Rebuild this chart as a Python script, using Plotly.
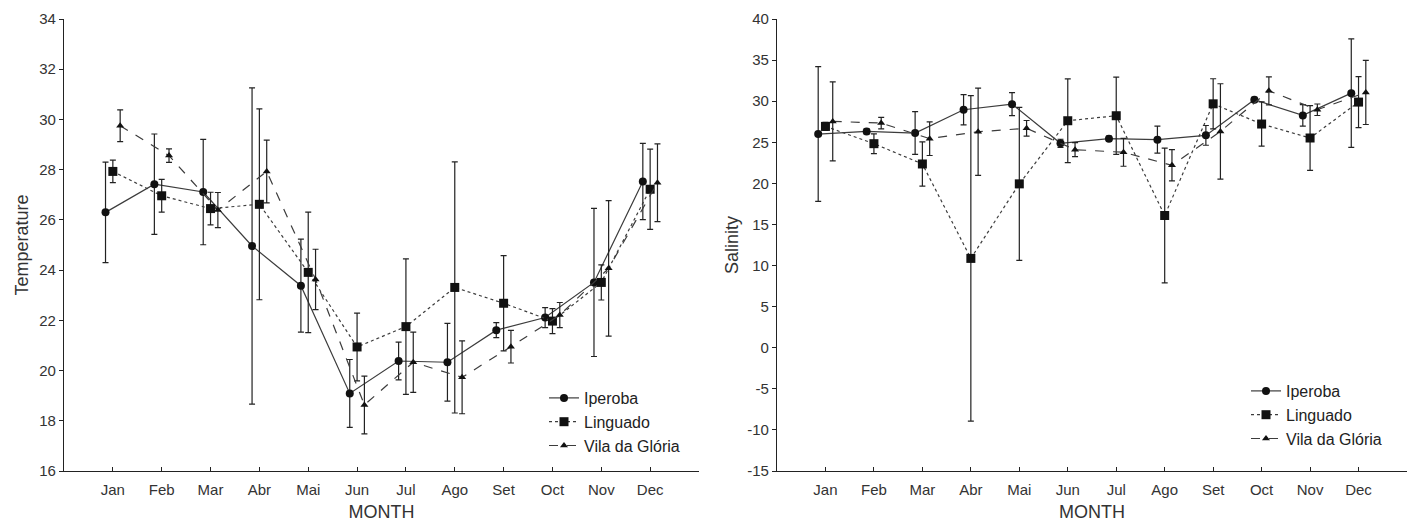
import plotly.graph_objects as go

months = ["Jan", "Feb", "Mar", "Abr", "Mai", "Jun", "Jul", "Ago", "Set", "Oct", "Nov", "Dec"]
month_pos = [1, 2, 3, 4, 5, 6, 7, 8, 9, 10, 11, 12]
sites = ["Iperoba", "Linguado", "Vila da Glória"]

temp_ticks = [16, 18, 20, 22, 24, 26, 28, 30, 32, 34]
temp_ticktext = ["16", "18", "20", "22", "24", "26", "28", "30", "32", "34"]
sal_ticks = [-15, -10, -5, 0, 5, 10, 15, 20, 25, 30, 35, 40]
sal_ticktext = ["-15", "-10", "-5", "0", "5", "10", "15", "20", "25", "30", "35", "40"]

# Temperature (mean, +/- error)
ipe_temp = [26.30, 27.42, 27.11, 24.96, 23.38, 19.09, 20.38, 20.33, 21.61, 22.11, 23.51, 27.53]
ipe_temp_err = [2.0, 2.0, 2.1, 6.3, 1.85, 1.35, 0.75, 1.55, 0.3, 0.4, 2.95, 1.52]
lin_temp = [27.93, 26.96, 26.45, 26.62, 23.91, 20.94, 21.75, 23.31, 22.68, 21.97, 23.51, 27.22]
lin_temp_err = [0.45, 0.65, 0.65, 3.8, 2.4, 1.35, 2.7, 5.0, 1.9, 0.5, 0.7, 1.6]
vil_temp = [29.75, 28.56, 26.39, 27.93, 23.63, 18.63, 20.33, 19.73, 20.95, 22.21, 24.07, 27.48]
vil_temp_err = [0.63, 0.27, 0.7, 1.25, 1.2, 1.15, 1.2, 1.45, 0.65, 0.5, 2.7, 1.55]

# Salinity (mean, +/- error)
ipe_sal = [26.0, 26.32, 26.12, 28.96, 29.64, 24.87, 25.44, 25.32, 25.84, 30.17, 28.27, 30.98]
ipe_sal_err = [8.2, 0.3, 2.6, 1.85, 1.4, 0.5, 0.3, 1.65, 1.2, 0.3, 1.3, 6.6]
lin_sal = [26.93, 24.83, 22.36, 10.87, 19.94, 27.62, 28.23, 16.09, 29.68, 27.22, 25.52, 29.89]
lin_sal_err = [0.5, 1.2, 2.7, 19.8, 9.3, 5.1, 4.7, 8.2, 3.05, 2.7, 3.95, 3.1]
vil_sal = [27.54, 27.34, 25.44, 26.28, 26.70, 24.10, 23.78, 22.20, 26.32, 31.26, 28.96, 31.06]
vil_sal_err = [4.8, 0.7, 2.05, 5.3, 0.95, 0.85, 1.7, 1.9, 5.8, 1.7, 0.7, 3.9]

offsets = [-0.15, 0.0, 0.15]
symbols = ["circle", "square", "triangle-up"]
msizes = [8, 9, 7]
dashes = ["solid", "dot", "dash"]

FONT = "Liberation Sans, Arial, sans-serif"
LINE_C = "#3c3c3c"

W, H = 1416, 522
def px(xp):
    return xp / W
def py(yp):
    return 1 - yp / H

fig = go.Figure()

temp_sets = [(ipe_temp, ipe_temp_err), (lin_temp, lin_temp_err), (vil_temp, vil_temp_err)]
sal_sets = [(ipe_sal, ipe_sal_err), (lin_sal, lin_sal_err), (vil_sal, vil_sal_err)]

for panel, sets in enumerate([temp_sets, sal_sets]):
    for i, (vals, errs) in enumerate(sets):
        fig.add_trace(go.Scatter(
            x=[m + offsets[i] for m in month_pos],
            y=vals,
            mode="lines+markers",
            name=sites[i],
            line=dict(color=LINE_C, width=1.2, dash=dashes[i]),
            marker=dict(symbol=symbols[i], size=msizes[i], color="#111111"),
            error_y=dict(type="data", array=errs, visible=True,
                         color="#222222", thickness=1.2, width=3),
            xaxis="x" if panel == 0 else "x2",
            yaxis="y" if panel == 0 else "y2",
            legend="legend" if panel == 0 else "legend2",
        ))

ydom = [py(471), py(19)]

common_x = dict(
    range=[0, 13], tickmode="array", tickvals=month_pos, ticktext=months,
    showline=True, linecolor="#222", linewidth=1.2, ticks="inside", ticklen=4,
    tickcolor="#222", showgrid=False, zeroline=False, mirror=False,
    tickfont=dict(family=FONT, size=15, color="#333"),
    title=dict(text="MONTH", font=dict(family=FONT, size=18, color="#333"), standoff=12),
    ticklabelstandoff=5, automargin=False,
)
common_y = dict(
    showline=True, linecolor="#222", linewidth=1.2, ticks="outside", ticklen=4,
    tickcolor="#222", showgrid=False, zeroline=False,
    tickfont=dict(family=FONT, size=15, color="#333"), automargin=False,
)

fig.update_layout(
    width=W, height=H,
    margin=dict(l=0, r=0, t=0, b=0),
    paper_bgcolor="white", plot_bgcolor="white",
    xaxis=dict(domain=[px(64), px(699)], anchor="y", **common_x),
    xaxis2=dict(domain=[px(777), px(1407)], anchor="y2", **common_x),
    yaxis=dict(domain=ydom, anchor="x", range=[16, 34], tickmode="array",
               tickvals=temp_ticks, ticktext=temp_ticktext,
               title=dict(text="Temperature", font=dict(family=FONT, size=18, color="#333"), standoff=5),
               **common_y),
    yaxis2=dict(domain=ydom, anchor="x2", range=[-15, 40], tickmode="array",
                tickvals=sal_ticks, ticktext=sal_ticktext,
                title=dict(text="Salinity", font=dict(family=FONT, size=18, color="#333"), standoff=3),
                **common_y),
    legend=dict(x=px(544), y=py(381), xanchor="left", yanchor="top",
                font=dict(family=FONT, size=16, color="#222"), bgcolor="rgba(0,0,0,0)",
                itemwidth=30, tracegroupgap=0),
    legend2=dict(x=px(1246), y=py(374), xanchor="left", yanchor="top",
                 font=dict(family=FONT, size=16, color="#222"), bgcolor="rgba(0,0,0,0)",
                 itemwidth=30, tracegroupgap=0),
)

fig.write_html(
    "out.html",
    config={"displayModeBar": False},
    post_script="document.body.style.margin='0';document.body.style.overflow='hidden';",
)
